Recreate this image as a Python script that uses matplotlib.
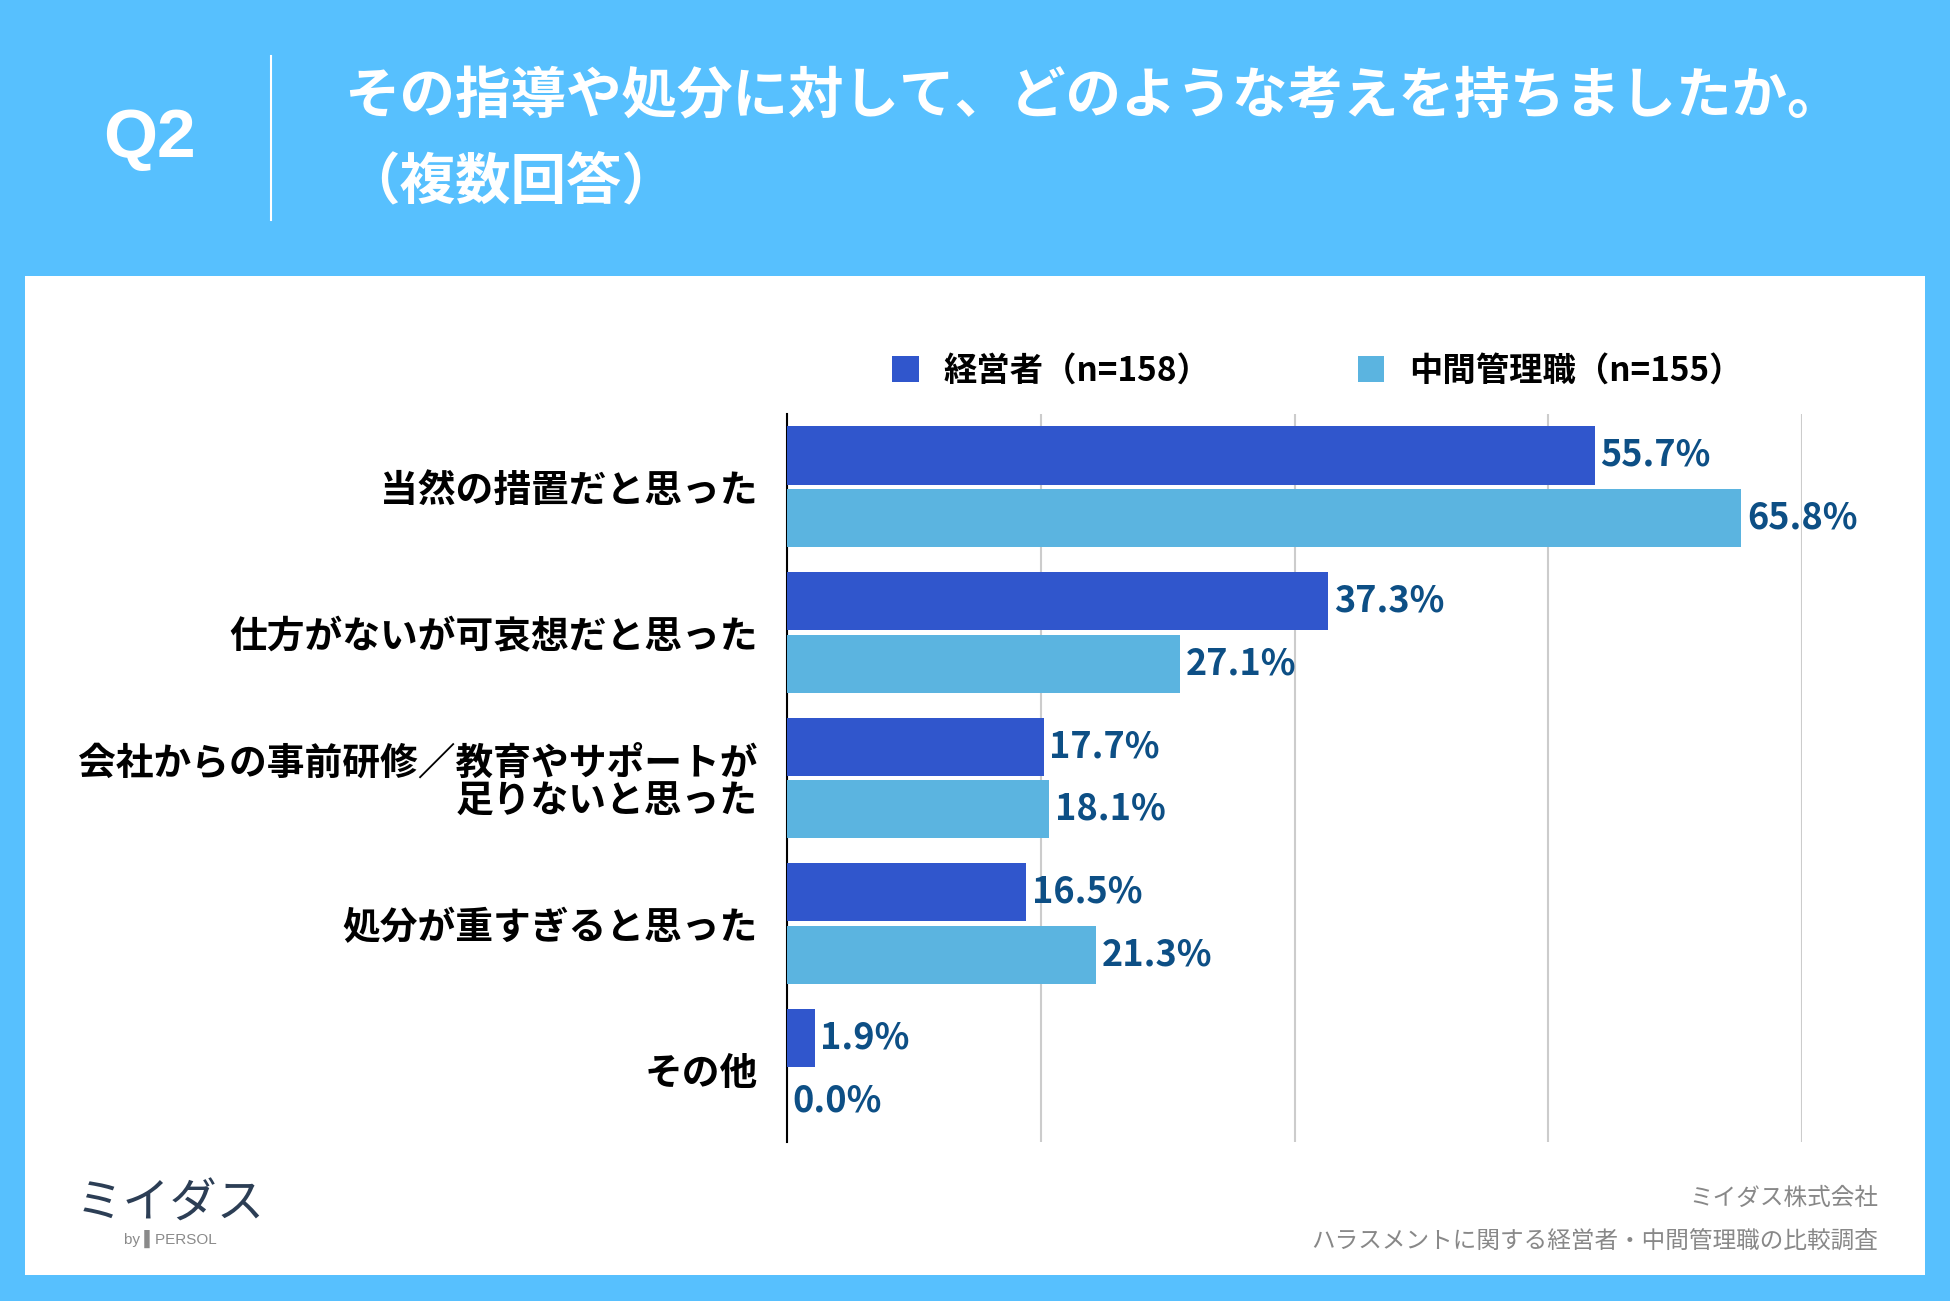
import matplotlib
matplotlib.use('Agg')
from matplotlib import pyplot as plt
from matplotlib.patches import Rectangle
from matplotlib.lines import Line2D
import numpy as np

plt.rcParams['font.family'] = ['Noto Sans CJK JP', 'DejaVu Sans']

CATEGORIES = ['当然の措置だと思った',
              '仕方がないが可哀想だと思った',
              '会社からの事前研修／教育やサポートが\n足りないと思った',
              '処分が重すぎると思った',
              'その他']
EXECUTIVES = [55.7, 37.3, 17.7, 16.5, 1.9]
MANAGERS = [65.8, 27.1, 18.1, 21.3, 0.0]
SERIES_NAMES = ['経営者（n=158）', '中間管理職（n=155）']

TITLE = 'その指導や処分に対して、どのような考えを持ちましたか。'
SUBTITLE = '（複数回答）'

BG = '#57C0FE'
DARK = '#3056CC'
LIGHT = '#5BB4E0'
VALUE_COLOR = '#0D4F85'

W, H = 1950, 1301


def fx(px):
    return px / W


def fy(py):
    return 1 - py / H


fig = plt.figure(figsize=(W / 100, H / 100), dpi=100)
fig.patch.set_facecolor(BG)

# white panel
fig.patches.append(Rectangle((fx(25), fy(1275)), fx(1925) - fx(25), fy(276) - fy(1275),
                             transform=fig.transFigure, facecolor='white',
                             edgecolor='none', zorder=-1))

# header
fig.text(fx(149), fy(139), 'Q2', color='white', fontsize=50, fontweight='bold',
         family=['Liberation Sans', 'DejaVu Sans'], ha='center', va='center')
fig.lines.append(Line2D([fx(271), fx(271)], [fy(56), fy(220)], transform=fig.transFigure,
                        color='white', linewidth=1.5))
fig.text(fx(344), fy(97), TITLE, color='white', fontsize=40, fontweight='bold',
         ha='left', va='center')
fig.text(fx(344), fy(182), SUBTITLE, color='white', fontsize=40, fontweight='bold',
         ha='left', va='center')

# chart
ax = fig.add_axes([fx(787), fy(1142), fx(1802) - fx(787), fy(414) - fy(1142)])
ax.set_zorder(2)
y = np.arange(len(CATEGORIES))
h = 0.4
off = 0.215
b1 = ax.barh(y - off, EXECUTIVES, height=h, color=DARK, zorder=3)
b2 = ax.barh(y + off, MANAGERS, height=h, color=LIGHT, zorder=3)

for bars, vals in ((b1, EXECUTIVES), (b2, MANAGERS)):
    for rect, v in zip(bars, vals):
        ax.text(v + 0.4, rect.get_y() + rect.get_height() / 2, f'{v:.1f}%',
                color=VALUE_COLOR, fontsize=26, fontweight='bold',
                ha='left', va='center', zorder=4)

ax.set_xlim(0, 70)
ax.set_ylim(len(CATEGORIES) - 0.5, -0.5)
ax.set_xticks(np.arange(0, 70.1, 17.5))
ax.xaxis.grid(True, color='#CCCCCC', linewidth=1.5)
ax.set_axisbelow(True)
ax.tick_params(axis='x', length=0, labelbottom=False)
ax.tick_params(axis='y', length=0, pad=21)
ax.set_yticks(y)
ax.set_yticklabels(CATEGORIES, fontsize=27.2, fontweight='bold', linespacing=1.0)
for lab in ax.get_yticklabels():
    lab.set_horizontalalignment('right')
for s in ('top', 'right', 'bottom'):
    ax.spines[s].set_visible(False)
ax.spines['left'].set_color('black')
ax.spines['left'].set_linewidth(1.5)
ax.set_facecolor('none')

leg = fig.legend([b1, b2], SERIES_NAMES, loc='center left',
                 bbox_to_anchor=(fx(879), fy(371)), ncol=2, frameon=False,
                 fontsize=24, handlelength=0.8, handleheight=0.8,
                 handletextpad=0.75, columnspacing=4.4, borderaxespad=0)
for t in leg.get_texts():
    t.set_fontweight('bold')

# footer
fig.text(fx(1878), fy(1198), 'ミイダス株式会社', color='#888888', fontsize=17,
         ha='right', va='center')
fig.text(fx(1878), fy(1241), 'ハラスメントに関する経営者・中間管理職の比較調査',
         color='#888888', fontsize=17, ha='right', va='center')
fig.text(fx(170), fy(1204), 'ミイダス', color='#2C3E55', fontsize=34,
         ha='center', va='center')
fig.text(fx(170), fy(1239), 'by ▌PERSOL', color='#8A8A8A', fontsize=11,
         family=['Liberation Sans', 'DejaVu Sans'], ha='center', va='center')

fig.savefig('out.png', dpi=100, facecolor=BG)
